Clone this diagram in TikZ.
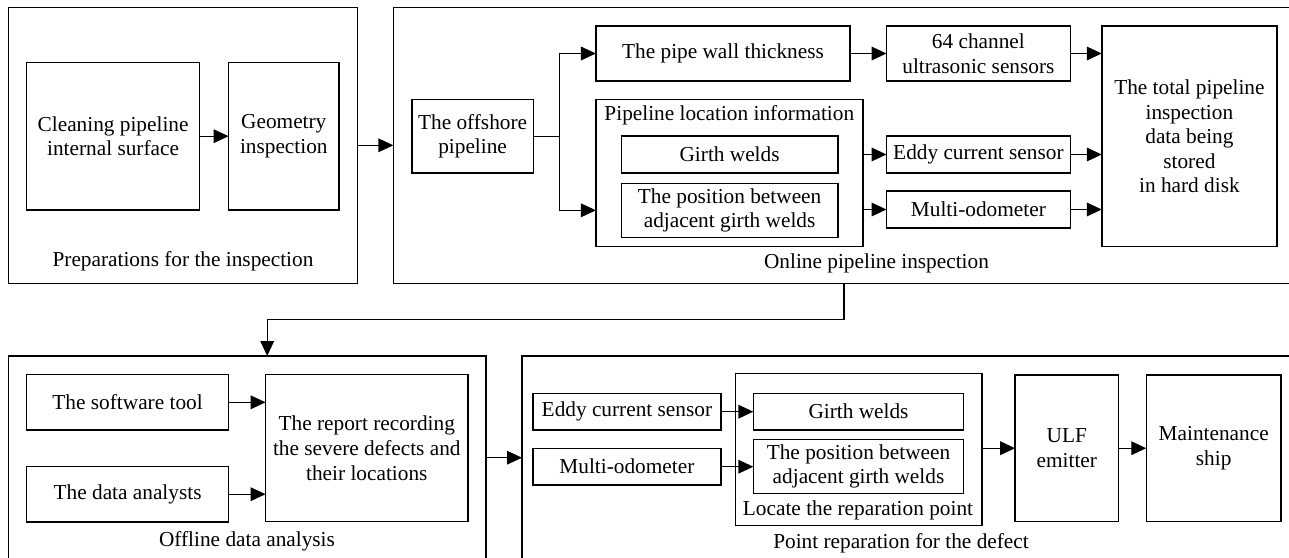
\documentclass[tikz,border=0pt]{standalone}
\usepackage{fontspec}
\setmainfont{Liberation Serif}
\usetikzlibrary{arrows.meta}
\begin{document}
\begin{tikzpicture}[x=0.5pt,y=-0.5pt,
	blk/.style={draw,line width=0.7pt,align=center,inner sep=0pt,outer sep=0pt,font=\fontsize{10.65}{12.3}\selectfont},
	arr/.style={line width=0.7pt,-{Triangle[length=7.5pt,width=6.8pt]}},
	grplabel/.style={font=\fontsize{10.65}{12.3}\selectfont,inner sep=0pt}]
	\useasboundingbox (0,0) rectangle (1289,557);
	\clip (0,0) rectangle (1289,557);
	% preparations
	\node[blk,minimum width=174.7pt,minimum height=138pt] (prep) at (183,145.3) {};
	\node[blk,minimum width=86.5pt,minimum height=73.85pt] (clean) at (113.1,136.2) {Cleaning pipeline\\internal surface};
	\node[blk,minimum width=55.2pt,minimum height=73.85pt] (geom) at (283.8,136.2) {Geometry\\inspection};
	\node[grplabel] (preplbl) at (183,261.7) {Preparations for the inspection};
	% online inspection
	\node[blk,minimum width=482.8pt,minimum height=138pt] (online) at (876.2,145.3) {};
	\node[blk,minimum width=60.6pt,minimum height=36.85pt] (offshore) at (472.6,136.2) {The offshore\\pipeline};
	\node[blk,minimum width=127.05pt,minimum height=27.5pt] (wall) at (723,53.5) {The pipe wall thickness};
	\node[blk,minimum width=133.45pt,minimum height=73.7pt] (locinfo) at (729.4,173) {};
	\node[grplabel] (locinfolbl) at (729.3,115) {Pipeline location information};
	\node[blk,minimum width=108.35pt,minimum height=18.5pt] (girth) at (729.6,154.5) {Girth welds};
	\node[blk,minimum width=108.35pt,minimum height=27pt] (posn) at (729.6,210.3) {The position between\\adjacent girth welds};
	\node[blk,minimum width=91.9pt,minimum height=27.5pt] (chan) at (978.4,53.5) {64 channel\\ultrasonic sensors};
	\node[blk,minimum width=91.9pt,minimum height=18.5pt] (eddy) at (978.4,154.5) {Eddy current sensor};
	\node[blk,minimum width=91.9pt,minimum height=18.5pt] (odo) at (978.4,209.5) {Multi-odometer};
	\node[blk,minimum width=87.6pt,minimum height=110.35pt] (total) at (1189.4,136.4) {The total pipeline\\inspection\\data being\\stored\\in hard disk};
	\node[grplabel] (onlinelbl) at (876.5,263.3) {Online pipeline inspection};
	% offline analysis
	\node[blk,minimum width=238.8pt,minimum height=101.7pt] (offline) at (247.1,457.7) {};
	\node[blk,minimum width=101pt,minimum height=27.65pt] (soft) at (127.6,402.3) {The software tool};
	\node[blk,minimum width=101pt,minimum height=27.65pt] (anal) at (127.6,494.2) {The data analysts};
	\node[blk,minimum width=101.2pt,minimum height=73.5pt] (report) at (366.8,448.2) {The report recording\\the severe defects and\\their locations};
	\node[grplabel] (offlinelbl) at (247,541.7) {Offline data analysis};
	% point reparation
	\node[blk,minimum width=418.5pt,minimum height=101.7pt] (point) at (940.5,457.7) {};
	\node[blk,minimum width=94.05pt,minimum height=18.35pt] (eddyb) at (626.9,411.7) {Eddy current sensor};
	\node[blk,minimum width=94.05pt,minimum height=18.35pt] (odob) at (626.9,466.7) {Multi-odometer};
	\node[blk,minimum width=123.25pt,minimum height=76.2pt] (locate) at (858.7,449.5) {};
	\node[blk,minimum width=105.15pt,minimum height=18.35pt] (girthb) at (858.5,411.7) {Girth welds};
	\node[blk,minimum width=105.15pt,minimum height=27pt] (posnb) at (858.5,466.3) {The position between\\adjacent girth welds};
	\node[grplabel] (locatelbl) at (858,510) {Locate the reparation point};
	\node[blk,minimum width=51.65pt,minimum height=73.15pt] (ulf) at (1066.8,448.2) {ULF\\emitter};
	\node[blk,minimum width=67.45pt,minimum height=73.15pt] (ship) at (1213.7,448.2) {Maintenance\\ship};
	\node[grplabel] (pointlbl) at (901,543.3) {Point reparation for the defect};
	% connectors
	\draw[arr] (clean) -- (geom);
	\draw[arr] (prep) -- (online);
	\coordinate (br) at (559.3,136.2);
	\draw[line width=0.7pt] (offshore.east) -- (br);
	\draw[arr] (br) |- (wall.west);
	\draw[arr] (br) |- (locinfo.west |- posn);
	\draw[arr] (wall) -- (chan);
	\draw[arr] (locinfo.east |- eddy) -- (eddy.west);
	\draw[arr] (locinfo.east |- odo) -- (odo.west);
	\draw[arr] (chan.east) -- (total.west |- chan);
	\draw[arr] (eddy.east) -- (total.west |- eddy);
	\draw[arr] (odo.east) -- (total.west |- odo);
	\coordinate (tap) at (844,283.3);
	\coordinate (drop) at (267.2,356);
	\draw[arr] (tap) -- ++(0,36) -| (drop);
	\draw[arr] (offline) -- (point);
	\draw[arr] (soft.east) -- (report.west |- soft);
	\draw[arr] (anal.east) -- (report.west |- anal);
	\draw[arr] (eddyb) -- (girthb);
	\draw[arr] (odob.east) -- (posnb.west |- odob);
	\draw[arr] (locate.east |- ulf) -- (ulf.west);
	\draw[arr] (ulf) -- (ship);
\end{tikzpicture}
\end{document}
